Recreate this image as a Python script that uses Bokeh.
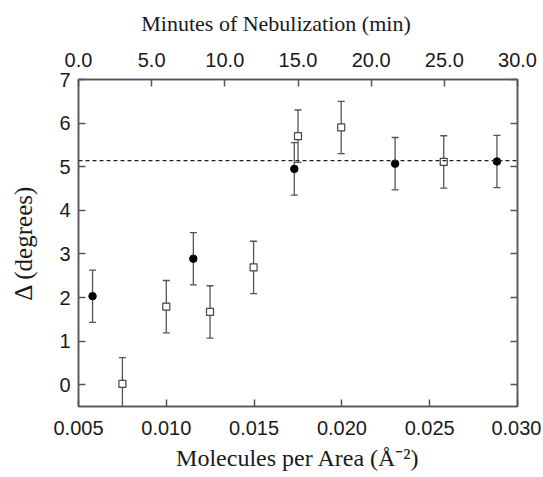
from bokeh.plotting import figure
from bokeh.models import (Range1d, LinearAxis, FixedTicker, NumeralTickFormatter, Span)
from bokeh.embed import file_html
from bokeh.resources import INLINE

# ---- data ----
circle_x = [0.0058, 0.01154, 0.01729, 0.02303, 0.02883]
circle_y = [2.03, 2.89, 4.95, 5.07, 5.12]
circle_err = [0.60, 0.60, 0.60, 0.60, 0.60]

square_x = [0.0075, 0.0100, 0.01249, 0.01497, 0.0175, 0.01996, 0.0258]
square_y = [0.02, 1.79, 1.67, 2.69, 5.70, 5.90, 5.11]
square_err = [0.60, 0.60, 0.60, 0.60, 0.60, 0.60, 0.60]

mean_level = 5.14

x_ticks = [0.005, 0.010, 0.015, 0.020, 0.025, 0.030]
min_ticks = [0, 5, 10, 15, 20, 25, 30]
y_ticks = [0, 1, 2, 3, 4, 5, 6, 7]

x_title = "Molecules per Area (Å⁻²)"
top_title = "Minutes of Nebulization (min)"
y_title = "Δ (degrees)"

AX = "#555555"
TXT = "#1a1a1a"
SERIF = "Liberation Serif"
SANS = "Liberation Sans"

p = figure(frame_width=439, frame_height=327,
           x_range=Range1d(0.005, 0.030), y_range=Range1d(-0.5, 7),
           output_backend="svg", toolbar_location=None,
           x_axis_location=None, y_axis_location=None,
           min_border_left=78, min_border_top=79, min_border_right=24, min_border_bottom=70)
p.extra_x_ranges = {"min": Range1d(0, 30)}
p.grid.visible = False
p.outline_line_color = AX
p.outline_line_width = 1.5
p.background_fill_color = "white"
p.border_fill_color = "white"


def style(ax, ticks, fmt, label, standoff, label_standoff, label_size="22px", show_labels=True):
    ax.ticker = FixedTicker(ticks=ticks)
    if fmt:
        ax.formatter = NumeralTickFormatter(format=fmt)
    ax.axis_line_color = AX
    ax.axis_line_width = 1.5
    ax.major_tick_line_color = AX
    ax.major_tick_line_width = 1.5
    ax.major_tick_in = 7
    ax.major_tick_out = 0
    ax.minor_tick_line_color = None
    ax.major_label_text_font = SANS
    ax.major_label_text_font_size = "20px"
    ax.major_label_text_color = TXT if show_labels else None
    ax.major_label_standoff = standoff
    if label:
        ax.axis_label = label
        ax.axis_label_text_font = SERIF
        ax.axis_label_text_font_style = "normal"
        ax.axis_label_text_font_size = label_size
        ax.axis_label_text_color = TXT
        ax.axis_label_standoff = label_standoff


bottom = LinearAxis()
style(bottom, x_ticks, "0.000", x_title, 14, 7, "24px")
p.add_layout(bottom, "below")

top = LinearAxis(x_range_name="min")
# trailing no-break spaces shift the centred title left, as in the reference
style(top, min_ticks, "0.0", top_title + "\u00a0" * 8, 13, 14, "22px")
p.add_layout(top, "above")

left = LinearAxis()
style(left, y_ticks, "0", y_title, 8, 19, "25px")
p.add_layout(left, "left")

right = LinearAxis()
style(right, y_ticks, "0", None, 0, 0, show_labels=False)
right.major_label_overrides = {t: "" for t in y_ticks}
p.add_layout(right, "right")

p.add_layout(Span(location=mean_level, dimension="width", line_color="#222222",
                  line_width=1.2, line_dash="4 3"))

# error bars (glyphs, clipped to the frame)
for xs, ys, es in [(circle_x, circle_y, circle_err), (square_x, square_y, square_err)]:
    lo = [y - e for y, e in zip(ys, es)]
    hi = [y + e for y, e in zip(ys, es)]
    p.segment(x0=xs, y0=lo, x1=xs, y1=hi, line_color=AX, line_width=1.3)
    p.scatter(x=xs + xs, y=lo + hi, marker="dash", size=7, line_color=AX, line_width=1.3)

p.scatter(x=square_x, y=square_y, marker="square", size=7, fill_color="white",
          line_color="#444444", line_width=1.2)
p.scatter(x=circle_x, y=circle_y, marker="circle", size=7.5, fill_color="black",
          line_color="black")

open("out.html", "w").write(file_html(p, INLINE))
